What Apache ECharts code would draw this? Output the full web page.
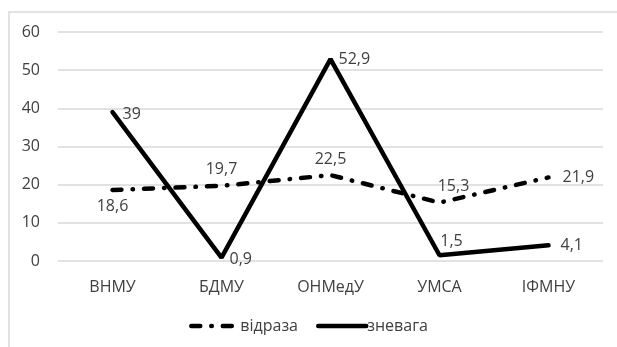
<!DOCTYPE html>
<html lang="uk">
<head>
    <meta charset="UTF-8">
    <title>Chart</title>
    <script src="https://cdn.jsdelivr.net/npm/echarts@6/dist/echarts.min.js"></script>
    <style>
        body { margin: 0; background: #fff; }
        #main { width: 617px; height: 347px; }
    </style>
</head>
<body>
    <div id="main"></div>
    <script>
        var categories = ['ВНМУ', 'БДМУ', 'ОНМедУ', 'УМСА', 'ІФМНУ'];
        var vidraza = [18.6, 19.7, 22.5, 15.3, 21.9];
        var znevaha = [39, 0.9, 52.9, 1.5, 4.1];
        var yTicks = [0, 10, 20, 30, 40, 50, 60];

        // where each data label sits, relative to its point
        var vidrazaPos = [['bottom', [0, 0]], ['top', [0, 0]], ['top', [0, 0]], ['top', [14, 0]], ['right', [6, 0]]];
        var znevahaPos = [['right', [4, 2]], ['right', [2, 2]], ['right', [2, 0]], ['top', [12, 0]], ['right', [6, 0]]];

        var font = 'Open Sans';
        var txt = '#404040';
        function comma(p) { return String(p.value).replace('.', ','); }
        function withLabels(vals, pos) {
            return vals.map(function (v, i) {
                return { value: v, label: { position: pos[i][0], offset: pos[i][1] } };
            });
        }

        var myChart = echarts.init(document.getElementById('main'));
        var option = {
            animation: false,
            graphic: [{
                type: 'rect',
                shape: { x: 9, y: 12, width: 620, height: 350 },
                style: { fill: 'none', stroke: '#d9d9d9', lineWidth: 1.5 },
                silent: true
            }],
            grid: { left: 58, right: 14, top: 32, bottom: 86 },
            xAxis: {
                type: 'category',
                data: categories,
                axisLine: { show: false },
                axisTick: { show: false },
                axisLabel: { color: txt, fontFamily: font, fontSize: 16, margin: 18 }
            },
            yAxis: {
                type: 'value',
                min: yTicks[0],
                max: yTicks[yTicks.length - 1],
                interval: 10,
                axisLine: { show: false },
                axisTick: { show: false },
                axisLabel: { color: txt, fontFamily: font, fontSize: 16, margin: 18 },
                splitLine: { lineStyle: { color: '#d9d9d9', width: 1.5 } }
            },
            legend: {
                bottom: 8,
                left: 'center',
                itemWidth: 48,
                itemHeight: 14,
                itemGap: 18,
                itemStyle: { opacity: 0 },
                lineStyle: { width: 4.5 },
                textStyle: { color: txt, fontFamily: font, fontSize: 16, padding: [0, 0, 0, -4] },
                data: ['відраза', 'зневага']
            },
            series: [
                {
                    name: 'відраза',
                    type: 'line',
                    symbol: 'circle',
                    symbolSize: 0.1,
                    data: withLabels(vidraza, vidrazaPos),
                    lineStyle: { color: '#000', width: 4.5, type: [9, 11, 0.5, 11], cap: 'round' },
                    itemStyle: { color: '#000' },
                    label: { show: true, formatter: comma, color: txt, fontFamily: font, fontSize: 16, distance: 8 },
                    z: 2
                },
                {
                    name: 'зневага',
                    type: 'line',
                    symbol: 'circle',
                    symbolSize: 0.1,
                    data: withLabels(znevaha, znevahaPos),
                    lineStyle: { color: '#000', width: 4.5, cap: 'round' },
                    itemStyle: { color: '#000' },
                    label: { show: true, formatter: comma, color: txt, fontFamily: font, fontSize: 16, distance: 6 },
                    z: 3
                }
            ]
        };
        option && myChart.setOption(option);
    </script>
</body>
</html>
